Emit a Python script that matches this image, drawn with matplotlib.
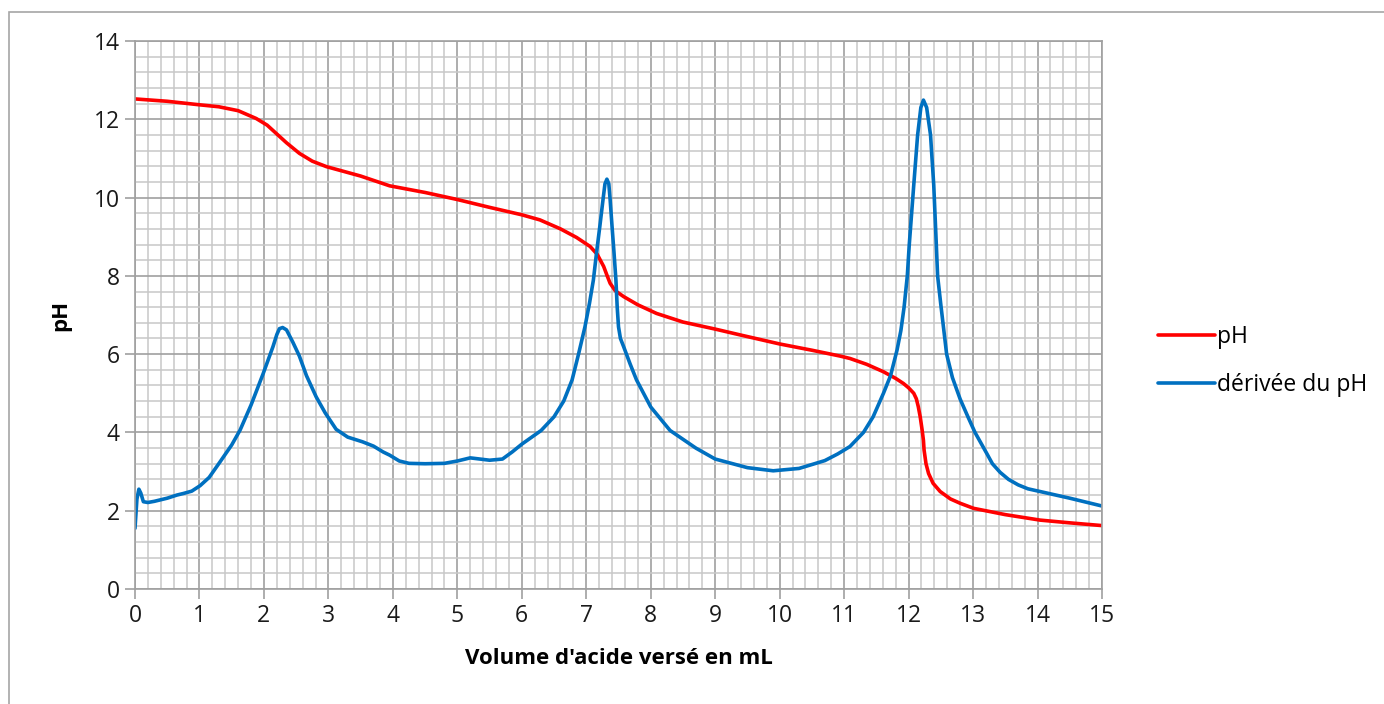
import matplotlib.pyplot as plt
import numpy as np
from matplotlib.patches import Rectangle

plt.rcParams['font.family'] = ['Open Sans', 'DejaVu Sans']

# titration curve, values
vol_ph = [0, 0.5, 1.0, 1.3, 1.6, 1.88, 2.05, 2.19, 2.35, 2.55, 2.75, 2.97, 3.5, 3.95, 4.5,
          5.0, 5.5, 6.0, 6.28, 6.6, 6.85, 7.06, 7.17, 7.27, 7.32, 7.37, 7.45, 7.58, 7.8,
          8.09, 8.5, 9.0, 9.39, 10.0, 10.5, 10.94, 11.09, 11.35, 11.61, 11.8, 11.92, 12.0,
          12.08, 12.12, 12.15, 12.18, 12.21, 12.23, 12.24, 12.27, 12.31, 12.38, 12.49,
          12.65, 12.8, 13.01, 13.5, 14.04, 14.5, 15.0]
ph = [12.52, 12.46, 12.37, 12.32, 12.22, 12.02, 11.85, 11.64, 11.4, 11.13, 10.93, 10.79,
      10.55, 10.30, 10.13, 9.95, 9.75, 9.56, 9.43, 9.2, 8.98, 8.75, 8.55, 8.24, 8.02, 7.81,
      7.62, 7.47, 7.26, 7.04, 6.82, 6.64, 6.49, 6.26, 6.1, 5.95, 5.89, 5.74, 5.55, 5.38,
      5.25, 5.14, 5.0, 4.86, 4.66, 4.4, 4.06, 3.8, 3.55, 3.2, 2.95, 2.7, 2.49,
      2.3, 2.19, 2.06, 1.9, 1.76, 1.69, 1.62]

vol_d = [0, 0.03, 0.06, 0.09, 0.13, 0.2, 0.3, 0.5, 0.65, 0.75, 0.88, 1.01, 1.15, 1.32, 1.5,
         1.63, 1.8, 1.99, 2.14, 2.2, 2.24, 2.29, 2.35, 2.45, 2.55, 2.66, 2.81, 2.95, 3.12,
         3.3, 3.53, 3.7, 3.85, 3.95, 4.1, 4.25, 4.5, 4.8, 5.0, 5.2, 5.35, 5.5, 5.7, 5.85,
         6.0, 6.3, 6.5, 6.65, 6.78, 6.88, 6.98, 7.05, 7.11, 7.16, 7.21, 7.26, 7.29, 7.32,
         7.35, 7.37, 7.40, 7.43, 7.46, 7.48, 7.50, 7.53, 7.58, 7.68, 7.78, 8.0, 8.3, 8.7,
         9.0, 9.5, 9.9, 10.3, 10.7, 10.9, 11.09, 11.3, 11.45, 11.61, 11.72, 11.82, 11.88,
         11.93, 11.98, 12.01, 12.08, 12.14, 12.19, 12.23, 12.28, 12.34, 12.39, 12.43, 12.45,
         12.50, 12.59, 12.68, 12.8, 12.92, 13.03, 13.21, 13.3, 13.42, 13.55, 13.7, 13.85,
         14.04, 14.5, 15.0]
dph = [1.55, 2.3, 2.55, 2.45, 2.23, 2.21, 2.24, 2.32, 2.4, 2.44, 2.5, 2.64, 2.85, 3.25, 3.68,
       4.06, 4.7, 5.51, 6.19, 6.5, 6.65, 6.68, 6.62, 6.3, 5.95, 5.45, 4.91, 4.5, 4.08,
       3.88, 3.76, 3.65, 3.5, 3.42, 3.27, 3.21, 3.2, 3.21, 3.27, 3.35, 3.32, 3.29, 3.32, 3.5,
       3.7, 4.05, 4.4, 4.8, 5.34, 6.0, 6.7, 7.3, 7.89, 8.6, 9.26, 9.95, 10.35, 10.47,
       10.35, 9.95, 9.26, 8.6, 7.89, 7.2, 6.7, 6.4, 6.19, 5.75, 5.34, 4.65, 4.05, 3.6,
       3.32, 3.1, 3.02, 3.08, 3.28, 3.45, 3.64, 4.0, 4.4, 5.0, 5.45, 6.1, 6.6,
       7.2, 8.0, 8.79, 10.32, 11.6, 12.3, 12.49, 12.3, 11.6, 10.32, 8.79, 8.0,
       7.26, 6.0, 5.4, 4.85, 4.4, 4.0, 3.47, 3.2, 2.98, 2.8, 2.66, 2.56,
       2.49, 2.32, 2.12]

fig = plt.figure(figsize=(13.84, 7.04), dpi=100)
fig.patches.append(Rectangle((9/1384, -0.1), 1.2, (692)/704 + 0.1,
                             transform=fig.transFigure, fill=False,
                             edgecolor='#a6a6a6', linewidth=1.2))
ax = fig.add_axes([135/1384, 1-589/704, (1102-135)/1384, (589-41)/704])

ax.plot(vol_ph, ph, color='#ff0000', lw=2.6, label='pH',
        solid_capstyle='round', solid_joinstyle='round')
ax.plot(vol_d, dph, color='#0070c0', lw=2.6, label='dérivée du pH',
        solid_capstyle='round', solid_joinstyle='round')

ax.set_xlim(0, 15)
ax.set_ylim(0, 14)
ax.set_xticks(np.arange(0, 16, 1))
ax.set_yticks(np.arange(0, 15, 2))
ax.set_xticks(np.arange(0, 15.01, 0.2), minor=True)
ax.set_yticks(np.arange(0, 14.01, 0.4), minor=True)
ax.grid(True, which='minor', color='#c8c8c8', lw=1.1)
ax.grid(True, which='major', color='#a0a0a0', lw=1.2)
ax.set_axisbelow(True)
ax.tick_params(which='major', direction='out', length=7, color='#a0a0a0', width=1.2,
               labelsize=16.5, labelcolor='#1a1a1a', pad=4)
ax.tick_params(which='minor', length=0)
for s in ax.spines.values():
    s.set_color('#a0a0a0')
    s.set_linewidth(1.2)

ax.set_xlabel("Volume d'acide versé en mL", fontsize=16, fontweight='bold', labelpad=14)
ax.set_ylabel('pH', fontsize=16, fontweight='bold', labelpad=16)

fig.legend(loc='center left', bbox_to_anchor=(1137/1384, 1-361/704), frameon=False,
           fontsize=16.5, handlelength=2.5, handletextpad=0.1, labelspacing=1.05)

plt.savefig('out.png', dpi=100)
plt.close('all')
